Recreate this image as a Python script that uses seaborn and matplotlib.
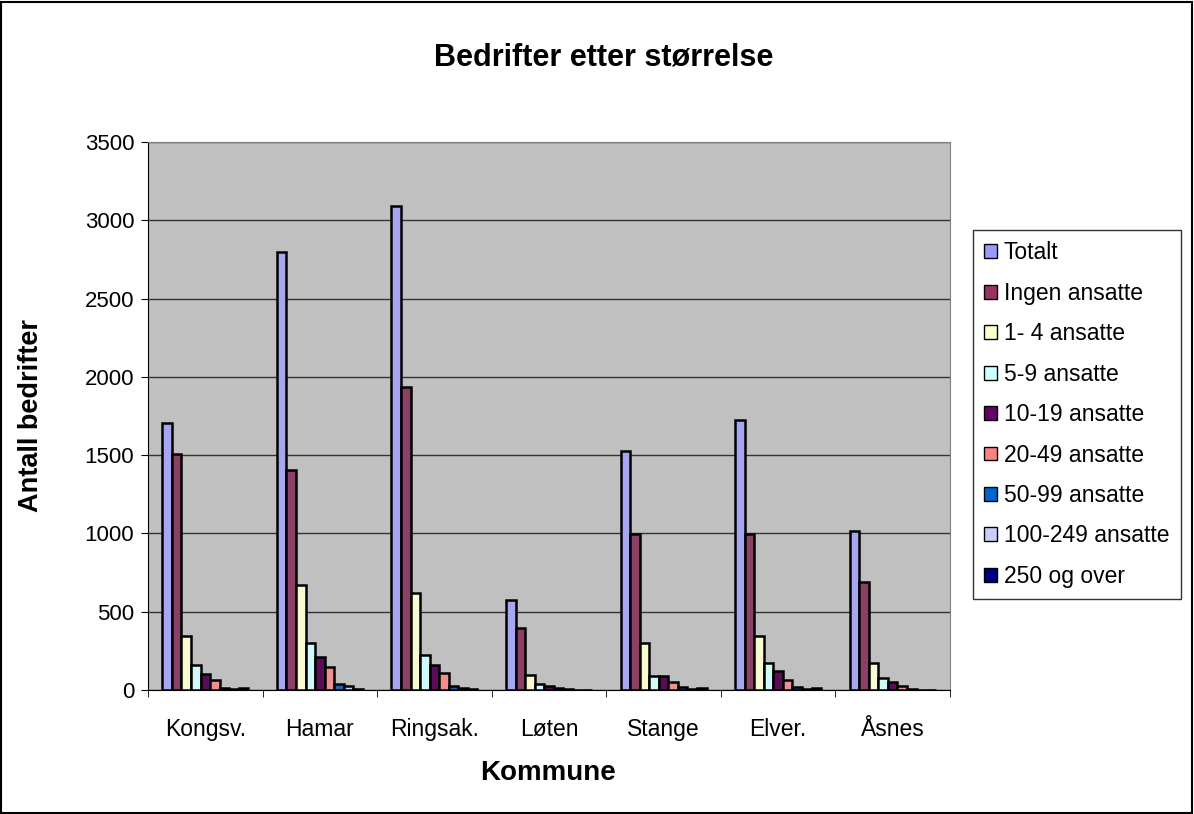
import pandas as pd
import numpy as np
import matplotlib
matplotlib.use("Agg")
import matplotlib.pyplot as plt
import seaborn as sns

# Data
kommuner = ["Kongsv.", "Hamar", "Ringsak.", "Løten", "Stange", "Elver.", "Åsnes"]
grupper = ["Totalt", "Ingen ansatte", "1- 4 ansatte", "5-9 ansatte", "10-19 ansatte",
           "20-49 ansatte", "50-99 ansatte", "100-249 ansatte", "250 og over"]

totalt = [1705, 2795, 3090, 572, 1528, 1725, 1015]
ingen = [1510, 1403, 1937, 398, 995, 995, 692]
a1_4 = [347, 672, 619, 98, 297, 346, 172]
a5_9 = [161, 297, 222, 38, 87, 172, 76]
a10_19 = [100, 210, 161, 25, 87, 123, 51]
a20_49 = [62, 149, 108, 15, 51, 62, 28]
a50_99 = [14, 38, 28, 4, 17, 17, 5]
a100_249 = [8, 25, 10, 2, 6, 8, 3]
a250 = [12, 5, 8, 1, 12, 15, 2]

farger = ["#9999FF", "#993366", "#FFFFCC", "#CCFFFF", "#660066",
          "#FF8080", "#0066CC", "#CCCCFF", "#000080"]

serier = [totalt, ingen, a1_4, a5_9, a10_19, a20_49, a50_99, a100_249, a250]
rows = []
for g, vals in zip(grupper, serier):
    for k, v in zip(kommuner, vals):
        rows.append({"Kommune": k, "Gruppe": g, "Antall": v})
df = pd.DataFrame(rows)

plt.rcParams["font.family"] = ["Liberation Sans", "DejaVu Sans"]

fig = plt.figure(figsize=(11.94, 8.14), dpi=100)
ax = fig.add_axes([148 / 1194, 1 - 690 / 814, 802 / 1194, 548 / 814])
ax.set_facecolor("#C0C0C0")

sns.barplot(data=df, x="Kommune", y="Antall", hue="Gruppe",
            order=kommuner, hue_order=grupper, palette=farger,
            width=0.75, edgecolor="black", linewidth=1.8,
            errorbar=None, ax=ax, zorder=3)

ax.set_ylim(0, 3500)
ax.set_xlim(-0.5, len(kommuner) - 0.5)
ax.set_yticks(np.arange(0, 3501, 500))
ax.yaxis.grid(True, color="#333333", linewidth=1, zorder=0)
ax.set_axisbelow(True)

ax.tick_params(axis="y", labelsize=16, length=5, direction="out", pad=5)
ax.tick_params(axis="x", which="major", labelsize=16.5, length=0, pad=20)
ax.set_xticks(np.arange(-0.5, len(kommuner)), minor=True)
ax.tick_params(axis="x", which="minor", length=5, direction="out")

for s in ["top", "right"]:
    ax.spines[s].set_color("#808080")
for s in ["left", "bottom"]:
    ax.spines[s].set_color("black")

ax.set_xlabel("")
ax.set_ylabel("")
fig.text(548 / 1194, 1 - 773 / 814, "Kommune", ha="center", va="center",
         fontsize=20, fontweight="bold")
fig.text(31 / 1194, 1 - 415 / 814, "Antall bedrifter", ha="center", va="center",
         rotation=90, fontsize=19.5, fontweight="bold")
fig.text(604 / 1194, 1 - 57 / 814, "Bedrifter etter størrelse", ha="center",
         va="center", fontsize=22, fontweight="bold")

ax.legend_.remove()
handles = [matplotlib.patches.Patch(facecolor=c, edgecolor="black", linewidth=1) for c in farger]
leg = fig.legend(handles, grupper, loc="upper left",
                 bbox_to_anchor=(973 / 1194, 1 - 230 / 814),
                 fontsize=16.5, frameon=True, fancybox=False,
                 handlelength=0.55, handleheight=0.55, handletextpad=0.3,
                 labelspacing=0.76, borderpad=0.5, borderaxespad=0)
leg.get_frame().set_edgecolor("black")
leg.get_frame().set_linewidth(1)

# border around whole chart
fig.patches.append(matplotlib.patches.Rectangle((0.001, 0.001), 0.997, 0.997,
                   transform=fig.transFigure, fill=False, edgecolor="black", linewidth=1.5))

plt.savefig("out.png", dpi=100)
